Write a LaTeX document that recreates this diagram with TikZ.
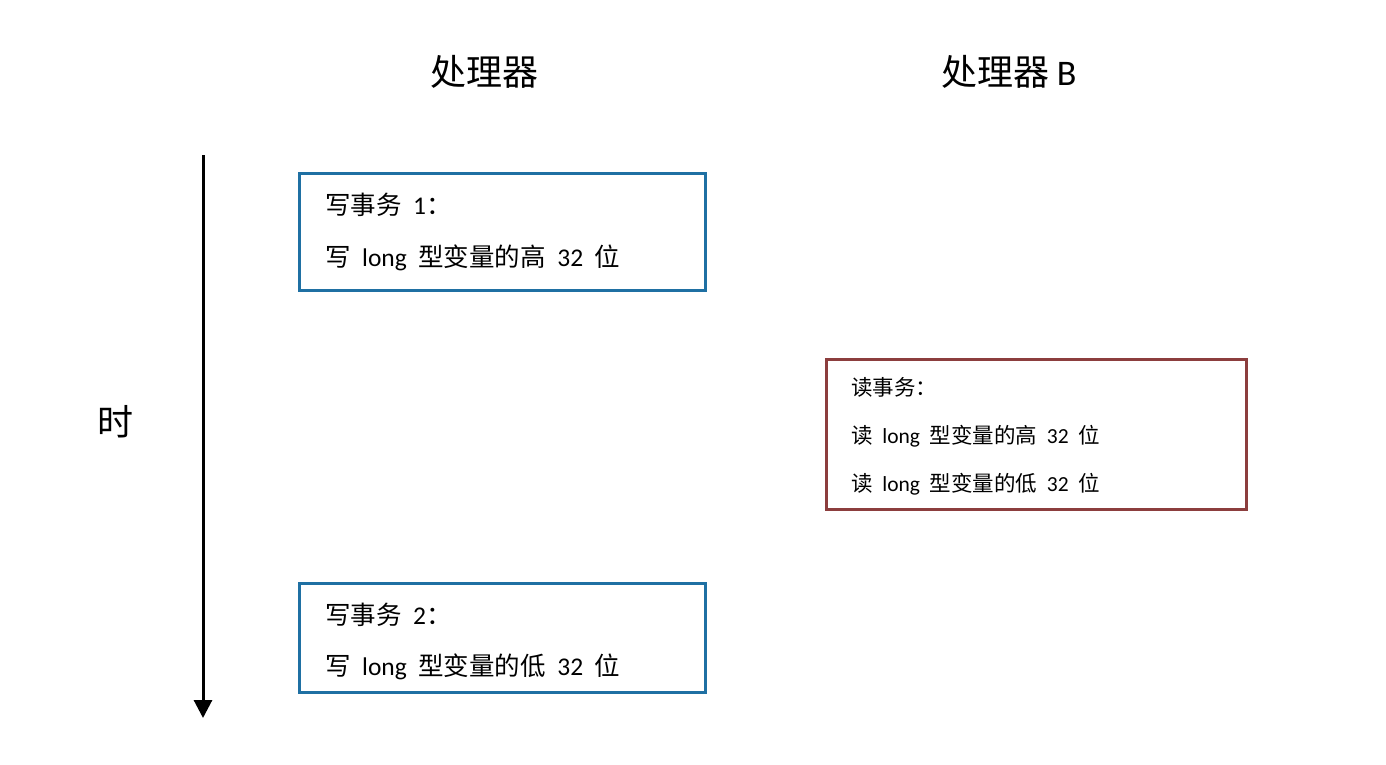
\documentclass[tikz,border=0pt]{standalone}
\usepackage{fontspec}
\setmainfont{Carlito}
\newfontfamily\cjk{Noto Sans CJK SC}
\usetikzlibrary{arrows.meta}
\definecolor{boxblue}{RGB}{31,112,163}
\definecolor{boxred}{RGB}{140,62,62}
\newcommand\gapA{\hspace{0.45em}}
\begin{document}
\begin{tikzpicture}[x=1pt,y=-1pt,
  wbox/.style={draw=boxblue, line width=3pt, inner sep=0pt},
  rbox/.style={draw=boxred, line width=3pt, inner sep=0pt},
  txtA/.style={anchor=west, inner sep=0pt, font=\fontsize{25.5}{25.5}\selectfont},
  txtB/.style={anchor=west, inner sep=0pt, font=\fontsize{21.5}{21.5}\selectfont},
  title/.style={inner sep=0pt, font=\fontsize{36}{36}\selectfont}
]
\useasboundingbox (0,0) rectangle (1386,764);
% titles
\node[title] (pa) at (484,72) {\cjk 处理器};
\node[title] (pb) at (1009,72) {{\cjk 处理器}\hspace{0.2em}B};
\node[title] (time) at (115,422) {\cjk 时};
% time arrow
\coordinate (t0) at (203,155);
\coordinate (t1) at (203,718);
\draw[line width=3pt, -{Triangle[length=18pt,width=18pt]}] (t0) -- (t1);
% write transaction 1
\node[wbox, minimum width=406pt, minimum height=117pt] (w1) at (502,231.5) {};
\node[txtA] (w1a) at (325,205) {{\cjk 写事务}\gapA 1{\cjk ：}};
\node[txtA] (w1b) at (325,258) {{\cjk 写}\gapA long\gapA{\cjk 型变量的高}\gapA 32\gapA{\cjk 位}};
% write transaction 2
\node[wbox, minimum width=406pt, minimum height=109pt] (w2) at (502,637.5) {};
\node[txtA] (w2a) at (325,615) {{\cjk 写事务}\gapA 2{\cjk ：}};
\node[txtA] (w2b) at (325,667) {{\cjk 写}\gapA long\gapA{\cjk 型变量的低}\gapA 32\gapA{\cjk 位}};
% read transaction
\node[rbox, minimum width=420pt, minimum height=150pt] (r) at (1036,434) {};
\node[txtB] (ra) at (851,387) {{\cjk 读事务：}};
\node[txtB] (rb) at (851,436) {{\cjk 读}\gapA long\gapA{\cjk 型变量的高}\gapA 32\gapA{\cjk 位}};
\node[txtB] (rc) at (851,484) {{\cjk 读}\gapA long\gapA{\cjk 型变量的低}\gapA 32\gapA{\cjk 位}};
\end{tikzpicture}
\end{document}
